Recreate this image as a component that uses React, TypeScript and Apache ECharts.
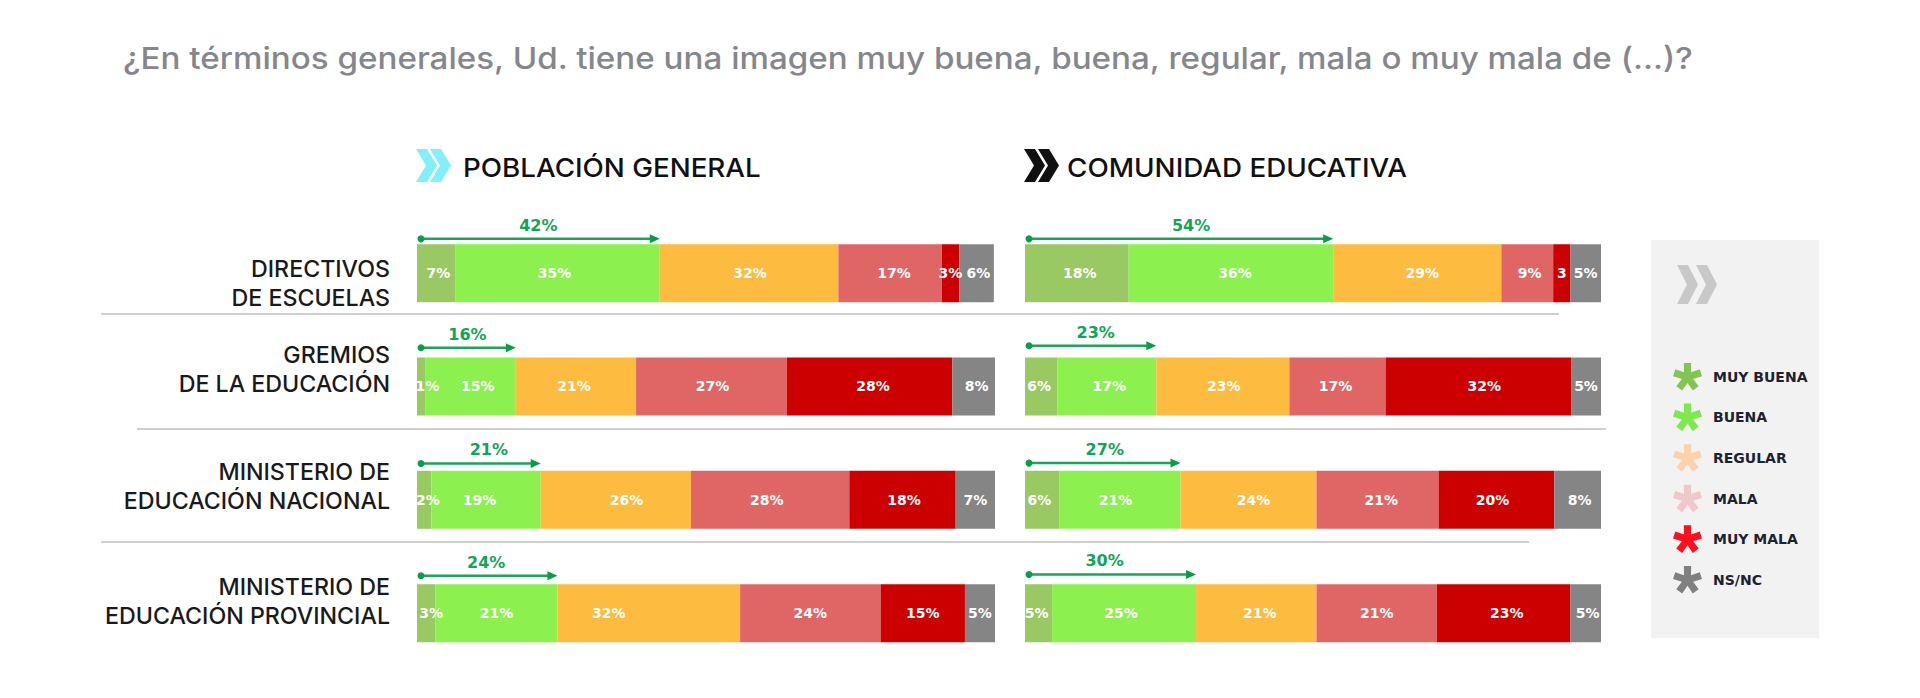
import React, { useEffect, useRef } from "react";
import * as echarts from "echarts";

// ---------- data ----------
const title = "¿En términos generales, Ud. tiene una imagen muy buena, buena, regular, mala o muy mala de (...)?";
const panelTitles = ["POBLACIÓN GENERAL", "COMUNIDAD EDUCATIVA"];
const categories = [
  "DIRECTIVOS\nDE ESCUELAS",
  "GREMIOS\nDE LA EDUCACIÓN",
  "MINISTERIO DE\nEDUCACIÓN NACIONAL",
  "MINISTERIO DE\nEDUCACIÓN PROVINCIAL",
];
const seriesNames = ["MUY BUENA", "BUENA", "REGULAR", "MALA", "MUY MALA", "NS/NC"];

// drawn segment lengths
const generalMuyBuena = [6.6, 1.5, 2.5, 3.2];
const generalBuena = [35.4, 15.6, 18.9, 21.1];
const generalRegular = [30.9, 20.8, 26.0, 31.6];
const generalMala = [17.9, 26.1, 27.4, 24.3];
const generalMuyMala = [3.0, 28.6, 18.4, 14.6];
const generalNsNc = [6.0, 7.5, 6.9, 5.3];

const comunidadMuyBuena = [18.0, 5.6, 6.0, 4.7];
const comunidadBuena = [35.5, 17.2, 21.0, 25.0];
const comunidadRegular = [29.2, 23.1, 23.6, 20.9];
const comunidadMala = [9.0, 16.7, 21.2, 20.9];
const comunidadMuyMala = [3.0, 32.2, 20.1, 23.2];
const comunidadNsNc = [5.3, 5.3, 8.1, 5.3];

// printed labels
const generalLabels = [
  ["7%", "35%", "32%", "17%", "3%", "6%"],
  ["1%", "15%", "21%", "27%", "28%", "8%"],
  ["2%", "19%", "26%", "28%", "18%", "7%"],
  ["3%", "21%", "32%", "24%", "15%", "5%"],
];
const comunidadLabels = [
  ["18%", "36%", "29%", "9%", "3", "5%"],
  ["6%", "17%", "23%", "17%", "32%", "5%"],
  ["6%", "21%", "24%", "21%", "20%", "8%"],
  ["5%", "25%", "21%", "21%", "23%", "5%"],
];
const generalTotals = ["42%", "16%", "21%", "24%"];
const comunidadTotals = ["54%", "23%", "27%", "30%"];

// ---------- layout & style ----------
const barColors = ["#98c962", "#8cf04f", "#fdbb3f", "#e06666", "#cc0000", "#858585"];
const legendColors = ["#84c452", "#7fe84f", "#fdd2ab", "#efc9c9", "#fb0f20", "#808080"];
const FONT = "Inter";
const BOLD = '"DejaVu Sans"';

const labelShift = [
  [[2.4, -3, 1, 4, 0, 2], [6, 7, -2, 1, 3.5, 3], [3.6, -6.5, 10.7, -3.4, 1.6, 0], [5, 0, -40, 0, 0, 0]],
  [[3, 4, 5, 2.4, 0, 0], [-2, 2.5, 1, -2, 6, 0], [-3, -4.6, 5, 3.8, -4, 2], [-2, -3, 3.5, 0, 3, 2]],
];
const arrowLift = [[5.3, 9.7, 7.4, 8.3], [5.3, 11.7, 7.7, 9.7]];
const arrowLabelShift = [[0, 1, 10, -1], [12, 5, 2, -6]];
const grids = [
  { left: 417, width: 578 },
  { left: 1025, width: 576 },
];
const BAR = 58;

function fit(text: string, font: string, target: number) {
  const ctx = document.createElement("canvas").getContext("2d")!;
  ctx.font = font;
  return target / ctx.measureText(text).width;
}

function asterisk() {
  const arm = 50, w = 13;
  const pts: string[] = [];
  for (let k = 0; k < 5; k++) {
    const a = (-90 + 72 * k) * Math.PI / 180;
    const ux = Math.cos(a), uy = Math.sin(a), vx = -uy, vy = ux;
    pts.push(`${50 + ux * arm - vx * w} ${50 + uy * arm - vy * w}`);
    pts.push(`${50 + ux * arm + vx * w} ${50 + uy * arm + vy * w}`);
    const b = (-90 + 72 * k + 36) * Math.PI / 180;
    pts.push(`${50 + Math.cos(b) * 21} ${50 + Math.sin(b) * 21}`);
  }
  return "path://M" + pts.join("L") + "Z";
}

function chevrons(x: number, y: number, w: number, h: number, t: number, gap: number, fill: string) {
  const one = (ox: number) => ({
    type: "polygon",
    shape: {
      points: [[ox, y], [ox + t, y], [ox + w, y + h / 2], [ox + t, y + h], [ox, y + h], [ox + w - t, y + h / 2]],
    },
    style: { fill },
  });
  return [one(x), one(x + gap)];
}

function hline(x1: number, x2: number, y: number) {
  return { type: "line", shape: { x1, y1: y, x2, y2: y }, style: { stroke: "#cfcfcf", lineWidth: 2 } };
}

export default function App() {
  const ref = useRef<HTMLDivElement>(null);
  useEffect(() => {
    if (!ref.current) return;
    const chart = echarts.init(ref.current, null, { renderer: "svg" });

    const panels = [
      { values: [generalMuyBuena, generalBuena, generalRegular, generalMala, generalMuyMala, generalNsNc], labels: generalLabels, totals: generalTotals },
      { values: [comunidadMuyBuena, comunidadBuena, comunidadRegular, comunidadMala, comunidadMuyMala, comunidadNsNc], labels: comunidadLabels, totals: comunidadTotals },
    ];

    const series: any[] = [];
    panels.forEach((p, pi) => {
      seriesNames.forEach((name, si) => {
        series.push({
          type: "bar",
          name,
          stack: "p" + pi,
          xAxisIndex: pi,
          yAxisIndex: pi,
          barWidth: BAR,
          itemStyle: { color: barColors[si] },
          label: {
            show: true,
            position: "inside",
            color: "#ffffff",
            fontFamily: BOLD,
            fontWeight: "bold",
            fontSize: 14,
          },
          data: p.values[si].map((v, ri) => ({
            value: v,
            label: { formatter: p.labels[ri][si], offset: [labelShift[pi][ri][si], 0] },
          })),
        });
      });
      series.push({
        type: "custom",
        xAxisIndex: pi,
        yAxisIndex: pi,
        z: 5,
        silent: true,
        encode: { x: 0, y: 1 },
        data: p.values[0].map((v, ri) => [v + p.values[1][ri], ri, p.totals[ri]]),
        renderItem: (params: any, api: any) => {
          const ri = api.value(1);
          const end = api.coord([api.value(0), ri]);
          const start = api.coord([0, ri]);
          const y = end[1] - BAR / 2 - arrowLift[pi][ri];
          const x0 = start[0] + 4;
          const x1 = end[0];
          return {
            type: "group",
            children: [
              { type: "line", shape: { x1: x0, y1: y, x2: x1 - 8, y2: y }, style: { stroke: "#1aa55a", lineWidth: 2.5 } },
              { type: "circle", shape: { cx: x0, cy: y, r: 3.5 }, style: { fill: "#0a9c4a" } },
              {
                type: "polygon",
                shape: { points: [[x1 - 10, y - 4.5], [x1, y], [x1 - 10, y + 4.5]] },
                style: { fill: "#0a9c4a" },
              },
              {
                type: "text",
                style: {
                  x: (start[0] + end[0]) / 2 + arrowLabelShift[pi][ri],
                  y: y - 13.5,
                  text: api.value(2),
                  fill: "#12a556",
                  font: `bold 16px ${BOLD}`,
                  textAlign: "center",
                  textVerticalAlign: "middle",
                },
              },
            ],
          };
        },
      });
    });

    const titleFont = `500 30px ${FONT}`;
    const headFont = `500 26px ${FONT}`;
    const rowFont = `500 23px ${FONT}`;
    const rowScale = fit("EDUCACIÓN PROVINCIAL", rowFont, 285);
    const rowY = [284, 370, 487, 602];

    const graphic: any[] = [
      { type: "rect", z: -1, shape: { x: 1651, y: 240, width: 168, height: 398 }, style: { fill: "#f2f2f2" } },
      {
        type: "text", x: 123, y: 58, scaleX: fit(title, titleFont, 1573),
        style: { text: title, font: titleFont, fill: "#85878c", textVerticalAlign: "middle" },
      },
      {
        type: "text", x: 463, y: 167, scaleX: fit(panelTitles[0], headFont, 298),
        style: { text: panelTitles[0], font: headFont, fill: "#111111", textVerticalAlign: "middle" },
      },
      {
        type: "text", x: 1067, y: 167, scaleX: fit(panelTitles[1], headFont, 340),
        style: { text: panelTitles[1], font: headFont, fill: "#111111", textVerticalAlign: "middle" },
      },
      ...categories.map((c, i) => ({
        type: "text", x: 390, y: rowY[i], scaleX: rowScale,
        style: { text: c, font: rowFont, fill: "#1a1a1a", textAlign: "right", textVerticalAlign: "middle", lineHeight: 29 },
      })),
      ...chevrons(416, 149, 21, 33, 11, 14, "#83eff8"),
      ...chevrons(1024, 149, 21, 33, 11, 14, "#111111"),
      ...chevrons(1677, 265, 21, 39, 11, 19, "#c8c8c8"),
      hline(101, 1559, 314),
      hline(137, 1606, 429),
      hline(101, 1529, 542),
    ];

    chart.setOption({
      animation: false,
      grid: grids.map((g) => ({ left: g.left, width: g.width, top: 216.5, height: 453.3 })),
      xAxis: grids.map((_, i) => ({ type: "value", gridIndex: i, min: 0, max: 100, show: false })),
      yAxis: grids.map((_, i) => ({
        type: "category", gridIndex: i, inverse: true, data: categories, show: false,
      })),
      legend: {
        orient: "vertical",
        left: 1668,
        top: 358,
        itemWidth: 29,
        itemHeight: 28,
        itemGap: 13,
        selectedMode: false,
        textStyle: { fontFamily: BOLD, fontWeight: "bold", fontSize: 14, color: "#1d2230", padding: [0, 0, 0, 6] },
        data: seriesNames.map((name, i) => ({ name, icon: asterisk(), itemStyle: { color: legendColors[i] } })),
      },
      graphic,
      series,
    });
    return () => chart.dispose();
  }, []);
  return <div ref={ref} style={{ position: "fixed", left: 0, top: 0, width: 1920, height: 698, background: "#fff" }} />;
}
